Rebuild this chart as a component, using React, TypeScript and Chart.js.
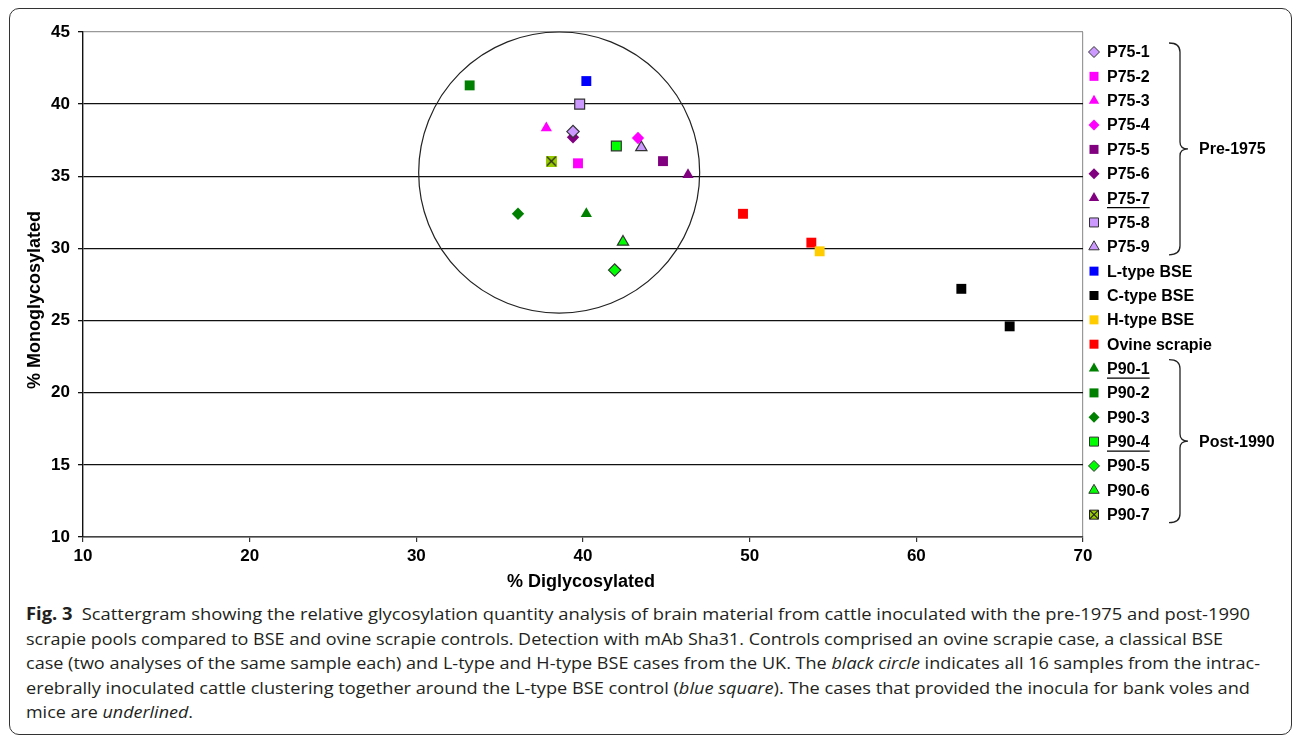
import React, { useEffect, useLayoutEffect, useRef } from 'react';
import { Chart, registerables } from 'chart.js';
Chart.register(...registerables);

// ---- Data: [% Diglycosylated, % Monoglycosylated] ----
const P75_1 = [[39.4, 38.1]];
const P75_2 = [[39.7, 35.9]];
const P75_3 = [[37.8, 38.35]];
const P75_4 = [[43.3, 37.65]];
const P75_5 = [[44.8, 36.05]];
const P75_6 = [[39.4, 37.7]];
const P75_7 = [[46.3, 35.1]];
const P75_8 = [[39.8, 40.0]];
const P75_9 = [[43.5, 37.0]];
const L_TYPE_BSE = [[40.2, 41.6]];
const C_TYPE_BSE = [[62.7, 27.2], [65.6, 24.6]];
const H_TYPE_BSE = [[54.2, 29.8]];
const OVINE_SCRAPIE = [[49.6, 32.4], [53.7, 30.4]];
const P90_1 = [[40.2, 32.4]];
const P90_2 = [[33.2, 41.3]];
const P90_3 = [[36.1, 32.4]];
const P90_4 = [[42.0, 37.1]];
const P90_5 = [[41.9, 28.5]];
const P90_6 = [[42.4, 30.45]];
const P90_7 = [[38.1, 36.05]];

const SERIES_LABELS = [
  'P75-1', 'P75-2', 'P75-3', 'P75-4', 'P75-5', 'P75-6', 'P75-7', 'P75-8', 'P75-9',
  'L-type BSE', 'C-type BSE', 'H-type BSE', 'Ovine scrapie',
  'P90-1', 'P90-2', 'P90-3', 'P90-4', 'P90-5', 'P90-6', 'P90-7',
];
const SERIES_DATA = [
  P75_1, P75_2, P75_3, P75_4, P75_5, P75_6, P75_7, P75_8, P75_9,
  L_TYPE_BSE, C_TYPE_BSE, H_TYPE_BSE, OVINE_SCRAPIE,
  P90_1, P90_2, P90_3, P90_4, P90_5, P90_6, P90_7,
];
const UNDERLINED = ['P75-7', 'P90-1', 'P90-4'];
const GROUPS = [
  { label: 'Pre-1975', first: 'P75-1', last: 'P75-9' },
  { label: 'Post-1990', first: 'P90-1', last: 'P90-7' },
];
const X_MIN = 10, X_MAX = 70, X_STEP = 10;
const Y_MIN = 10, Y_MAX = 45, Y_STEP = 5;
const X_TITLE = '% Diglycosylated';
const Y_TITLE = '% Monoglycosylated';
// cluster circle (data units)
const CIRCLE_CENTER = [38.57, 35.26];
const CIRCLE_RADII = [8.43, 9.74];

// ---- Styles ----
const LAV = '#CC99FF', MAG = '#FF00FF', PUR = '#800080', DG = '#008000', BG = '#00FF00';
const STYLE: Record<string, { shape: string; fill: string; stroke?: string }> = {
  'P75-1': { shape: 'diamond', fill: LAV, stroke: '#333' },
  'P75-2': { shape: 'square', fill: MAG },
  'P75-3': { shape: 'triangle', fill: MAG },
  'P75-4': { shape: 'diamond', fill: MAG },
  'P75-5': { shape: 'square', fill: PUR },
  'P75-6': { shape: 'diamond', fill: PUR },
  'P75-7': { shape: 'triangle', fill: PUR },
  'P75-8': { shape: 'square', fill: LAV, stroke: '#333' },
  'P75-9': { shape: 'triangle', fill: LAV, stroke: '#333' },
  'L-type BSE': { shape: 'square', fill: '#0000FF' },
  'C-type BSE': { shape: 'square', fill: '#000000' },
  'H-type BSE': { shape: 'square', fill: '#FFCC00' },
  'Ovine scrapie': { shape: 'square', fill: '#FF0000' },
  'P90-1': { shape: 'triangle', fill: DG },
  'P90-2': { shape: 'square', fill: DG },
  'P90-3': { shape: 'diamond', fill: DG },
  'P90-4': { shape: 'square', fill: BG, stroke: '#333' },
  'P90-5': { shape: 'diamond', fill: BG, stroke: '#333' },
  'P90-6': { shape: 'triangle', fill: BG, stroke: '#333' },
  'P90-7': { shape: 'xsquare', fill: '#99CC00', stroke: '#222' },
};

const BOLD = '"Liberation Sans", Arial, sans-serif';

function makeXSquare(fill: string, stroke: string, size: number) {
  const c = document.createElement('canvas');
  c.width = size; c.height = size;
  const g = c.getContext('2d')!;
  g.fillStyle = fill;
  g.fillRect(0, 0, size, size);
  g.strokeStyle = stroke;
  g.lineWidth = 1.2;
  g.beginPath();
  g.moveTo(1, 1); g.lineTo(size - 1, size - 1);
  g.moveTo(size - 1, 1); g.lineTo(1, size - 1);
  g.stroke();
  return c;
}

function drawMarker(ctx: CanvasRenderingContext2D, shape: string, x: number, y: number, fill: string, stroke?: string) {
  ctx.save();
  ctx.fillStyle = fill;
  ctx.strokeStyle = stroke || fill;
  ctx.lineWidth = 1;
  ctx.beginPath();
  if (shape === 'square' || shape === 'xsquare') {
    const h = 4.5;
    ctx.rect(x - h, y - h, 2 * h, 2 * h);
  } else if (shape === 'diamond') {
    const h = 5.5;
    ctx.moveTo(x, y - h); ctx.lineTo(x + h, y); ctx.lineTo(x, y + h); ctx.lineTo(x - h, y); ctx.closePath();
  } else {
    const r = 6;
    ctx.moveTo(x, y - r);
    ctx.lineTo(x + r * 0.866, y + r / 2);
    ctx.lineTo(x - r * 0.866, y + r / 2);
    ctx.closePath();
  }
  ctx.fill();
  if (stroke) ctx.stroke();
  if (shape === 'xsquare') {
    ctx.beginPath();
    ctx.strokeStyle = '#222';
    ctx.lineWidth = 1.2;
    ctx.moveTo(x - 4.5, y - 4.5); ctx.lineTo(x + 4.5, y + 4.5);
    ctx.moveTo(x + 4.5, y - 4.5); ctx.lineTo(x - 4.5, y + 4.5);
    ctx.stroke();
  }
  ctx.restore();
}

const LEGEND_MARK_X = 1094;
const LEGEND_TEXT_X = 1107;
const LEGEND_TOP = 52;
const LEGEND_STEP = 24.35;

const overlayPlugin = {
  id: 'overlay',
  beforeDatasetsDraw(chart: any) {
    const { ctx, scales } = chart;
    const cx = scales.x.getPixelForValue(CIRCLE_CENTER[0]);
    const cy = scales.y.getPixelForValue(CIRCLE_CENTER[1]);
    const rx = Math.abs(scales.x.getPixelForValue(CIRCLE_CENTER[0] + CIRCLE_RADII[0]) - cx);
    const ry = Math.abs(scales.y.getPixelForValue(CIRCLE_CENTER[1] + CIRCLE_RADII[1]) - cy);
    ctx.save();
    ctx.strokeStyle = '#222';
    ctx.lineWidth = 1.2;
    ctx.beginPath();
    ctx.ellipse(cx, cy, rx, ry, 0, 0, Math.PI * 2);
    ctx.stroke();
    ctx.restore();
  },
  afterDraw(chart: any) {
    const { ctx, chartArea } = chart;
    ctx.save();
    // axis titles
    ctx.fillStyle = '#000';
    ctx.font = `bold 18px ${BOLD}`;
    ctx.textAlign = 'center';
    ctx.textBaseline = 'middle';
    ctx.fillText(X_TITLE, (chartArea.left + chartArea.right) / 2 - 2, 582);
    ctx.save();
    ctx.translate(35, 300);
    ctx.rotate(-Math.PI / 2);
    ctx.fillText(Y_TITLE, 0, 0);
    ctx.restore();

    // legend
    ctx.font = `bold 16px ${BOLD}`;
    ctx.textAlign = 'left';
    const rowY: Record<string, number> = {};
    SERIES_LABELS.forEach((lab, i) => {
      const y = LEGEND_TOP + i * LEGEND_STEP;
      rowY[lab] = y;
      const st = STYLE[lab];
      drawMarker(ctx, st.shape, LEGEND_MARK_X, y, st.fill, st.stroke);
      ctx.fillStyle = '#000';
      ctx.fillText(lab, LEGEND_TEXT_X, y + 1);
      if (UNDERLINED.includes(lab)) {
        const w = ctx.measureText(lab).width;
        ctx.beginPath();
        ctx.strokeStyle = '#000';
        ctx.lineWidth = 1.3;
        ctx.moveTo(LEGEND_TEXT_X, y + 9.5);
        ctx.lineTo(LEGEND_TEXT_X + w, y + 9.5);
        ctx.stroke();
      }
    });

    // braces
    GROUPS.forEach((g) => {
      const top = rowY[g.first] - 9;
      const bot = rowY[g.last] + 8;
      const mid = (top + bot) / 2;
      const x0 = 1169, x1 = 1180, tip = 1188;
      ctx.beginPath();
      ctx.strokeStyle = '#222';
      ctx.lineWidth = 1.3;
      ctx.moveTo(x0, top);
      ctx.quadraticCurveTo(x1, top, x1, top + 9);
      ctx.lineTo(x1, mid - 7);
      ctx.quadraticCurveTo(x1, mid, tip, mid);
      ctx.quadraticCurveTo(x1, mid, x1, mid + 7);
      ctx.lineTo(x1, bot - 9);
      ctx.quadraticCurveTo(x1, bot, x0, bot);
      ctx.stroke();
      ctx.fillStyle = '#000';
      ctx.fillText(g.label, 1199, mid + 1);
    });
    ctx.restore();
  },
};

const CAPTION_LINES: { t: string; b?: boolean; i?: boolean }[][] = [
  [{ t: 'Fig. 3', b: true }, { t: '\u2002Scattergram showing the relative glycosylation quantity analysis of brain material from cattle inoculated with the pre-1975 and post-1990' }],
  [{ t: 'scrapie pools compared to BSE and ovine scrapie controls. Detection with mAb Sha31. Controls comprised an ovine scrapie case, a classical BSE' }],
  [{ t: 'case (two analyses of the same sample each) and L-type and H-type BSE cases from the UK. The ' }, { t: 'black circle', i: true }, { t: ' indicates all 16 samples from the intrac-' }],
  [{ t: 'erebrally inoculated cattle clustering together around the L-type BSE control (' }, { t: 'blue square', i: true }, { t: '). The cases that provided the inocula for bank voles and' }],
  [{ t: 'mice are ' }, { t: 'underlined', i: true }, { t: '.' }],
];
const CAPTION_WIDTHS = [1224, 1197, 1234, 1224, 167];
const CAPTION_CENTERS = [614, 638.5, 663, 687.5, 712];

export default function App() {
  const canvasRef = useRef<HTMLCanvasElement>(null);
  const lineRefs = useRef<(HTMLDivElement | null)[]>([]);

  useLayoutEffect(() => {
    lineRefs.current.forEach((el, i) => {
      if (!el) return;
      el.style.transform = 'none';
      const w = el.getBoundingClientRect().width;
      if (w > 0) el.style.transform = `scaleX(${CAPTION_WIDTHS[i] / w})`;
    });
  }, []);

  useEffect(() => {
    const canvas = canvasRef.current!;
    const tickFont = () => ({ family: BOLD, weight: 'bold', size: 17 });
    const datasets = SERIES_LABELS.map((lab, i) => {
      const st = STYLE[lab];
      let pointStyle: any = 'rect';
      let radius = 7;
      if (st.shape === 'diamond') { pointStyle = 'rectRot'; radius = 6.2; }
      else if (st.shape === 'triangle') { pointStyle = 'triangle'; radius = 6.5; }
      else if (st.shape === 'xsquare') { pointStyle = makeXSquare(st.fill, st.stroke || '#222', 11); radius = 6; }
      return {
        label: lab,
        data: SERIES_DATA[i].map(([x, y]) => ({ x, y })),
        pointStyle,
        pointRadius: radius,
        pointHoverRadius: radius,
        backgroundColor: st.fill,
        borderColor: st.stroke || st.fill,
        borderWidth: st.stroke && st.shape !== 'xsquare' ? 1.2 : 0,
        showLine: false,
      };
    });
    const chart = new Chart(canvas, {
      type: 'scatter',
      data: { datasets },
      options: {
        responsive: false,
        animation: false,
        events: [],
        layout: { padding: { left: 0, top: 32, right: 212, bottom: 0 } },
        plugins: { legend: { display: false }, tooltip: { enabled: false }, title: { display: false } },
        scales: {
          x: {
            type: 'linear',
            min: X_MIN, max: X_MAX,
            afterFit: (s: any) => { s.height = 63; },
            ticks: { stepSize: X_STEP, color: '#000', font: tickFont, padding: 4 },
            grid: {
              color: (c: any) => (c.tick && c.tick.value === X_MAX ? '#999' : 'rgba(0,0,0,0)'),
              tickColor: '#333',
              tickLength: 5,
              lineWidth: 1.2,
            },
            border: { color: '#444', width: 1.4 },
          },
          y: {
            type: 'linear',
            min: Y_MIN, max: Y_MAX,
            afterFit: (s: any) => { s.width = 83; },
            ticks: { stepSize: Y_STEP, color: '#000', font: tickFont, padding: 8 },
            grid: {
              color: (c: any) => (c.tick && c.tick.value === Y_MAX ? '#999' : c.tick && c.tick.value === Y_MIN ? '#444' : '#111'),
              tickColor: '#111',
              tickLength: 5,
              lineWidth: 1.3,
            },
            border: { color: '#111', width: 1.4 },
          },
        },
      },
      plugins: [overlayPlugin],
    } as any);
    return () => chart.destroy();
  }, []);

  return (
    <div style={{ position: 'fixed', left: 0, top: 0, width: 1295, height: 737, background: '#fff', overflow: 'hidden' }}>
      <div style={{ position: 'absolute', left: 9, top: 8, width: 1283, height: 727, border: '1.4px solid #333', borderRadius: 10, boxSizing: 'border-box' }} />
      <canvas ref={canvasRef} width={1295} height={600} style={{ position: 'absolute', left: 0, top: 0, width: 1295, height: 600 }} />
      {CAPTION_LINES.map((segs, i) => (
        <div
          key={i}
          ref={(el) => { lineRefs.current[i] = el; }}
          style={{
            position: 'absolute', left: 26, top: CAPTION_CENTERS[i] - 11, height: 22, lineHeight: '22px',
            whiteSpace: 'nowrap', fontFamily: '"Open Sans", "Noto Sans", sans-serif', fontSize: 17,
            color: '#231f20', transformOrigin: 'left center', display: 'inline-block',
          }}
        >
          {segs.map((s, j) => (
            <span key={j} style={{ fontWeight: s.b ? 700 : 400, fontStyle: s.i ? 'italic' : 'normal' }}>{s.t}</span>
          ))}
        </div>
      ))}
    </div>
  );
}
